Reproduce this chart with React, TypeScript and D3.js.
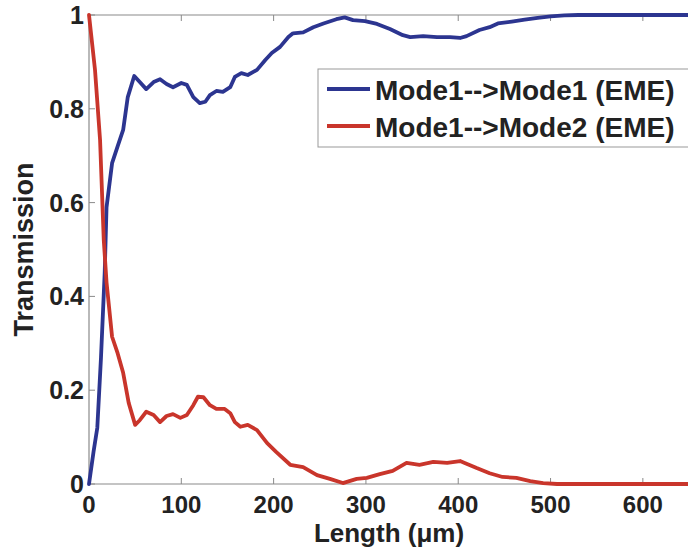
import React from "react";
import * as d3 from "d3";

const xTicks = [0, 100, 200, 300, 400, 500, 600];
const yTicks = [0, 0.2, 0.4, 0.6, 0.8, 1];
const yTickLabels = ["0", "0.2", "0.4", "0.6", "0.8", "1"];

const mode1Lengths = [0, 5, 9, 13, 17, 19, 25, 31, 37, 42, 49, 55, 62, 70, 77, 84, 91, 100, 106, 113, 120, 126, 131, 138, 145, 153, 158, 165, 172, 182, 191, 198, 207, 216, 221, 232, 243, 254, 268, 277, 286, 299, 312, 326, 340, 348, 362, 377, 391, 402, 409, 423, 434, 443, 458, 472, 486, 500, 515, 530, 650];
const mode1Values = [0, 0.07, 0.12, 0.27, 0.45, 0.59, 0.684, 0.72, 0.755, 0.825, 0.87, 0.857, 0.842, 0.857, 0.863, 0.853, 0.846, 0.855, 0.851, 0.825, 0.812, 0.815, 0.829, 0.838, 0.836, 0.846, 0.868, 0.876, 0.872, 0.883, 0.904, 0.919, 0.932, 0.953, 0.961, 0.963, 0.974, 0.982, 0.991, 0.995, 0.989, 0.987, 0.981, 0.97, 0.957, 0.953, 0.955, 0.953, 0.953, 0.951, 0.955, 0.968, 0.974, 0.982, 0.986, 0.99, 0.994, 0.997, 0.999, 1, 1];

const mode2Lengths = [0, 6.5, 12, 16, 19, 25, 31, 37, 43, 50, 55, 62, 70, 77, 84, 91, 99, 106, 113, 118, 124, 131, 138, 147, 153, 158, 164, 172, 182, 193, 203, 218, 232, 247, 261, 275, 290, 301, 315, 329, 344, 358, 373, 388, 402, 407, 420, 434, 448, 463, 478, 492, 507, 650];
const mode2Values = [1, 0.883, 0.733, 0.52, 0.43, 0.314, 0.279, 0.237, 0.173, 0.126, 0.136, 0.154, 0.147, 0.132, 0.145, 0.149, 0.141, 0.147, 0.168, 0.186, 0.185, 0.168, 0.16, 0.16, 0.151, 0.132, 0.122, 0.126, 0.115, 0.087, 0.068, 0.041, 0.036, 0.019, 0.011, 0.002, 0.011, 0.013, 0.021, 0.028, 0.045, 0.041, 0.047, 0.045, 0.049, 0.045, 0.034, 0.023, 0.015, 0.013, 0.006, 0.002, 0, 0];

const legendLabels = ["Mode1-->Mode1 (EME)", "Mode1-->Mode2 (EME)"];
const seriesColors = ["#2c3590", "#c9352b"];

const W = 688;
const H = 548;
const left = 89;
const right = 689;
const top = 15;
const bottom = 484;
const FONT = "'Liberation Sans', Arial, Helvetica, sans-serif";

export default function App() {
  const x = d3.scaleLinear().domain([0, 650]).range([left, right]);
  const y = d3.scaleLinear().domain([0, 1]).range([bottom, top]);
  const line = d3
    .line<[number, number]>()
    .x((d) => x(d[0]))
    .y((d) => y(d[1]))
    .curve(d3.curveLinear);
  const s1 = mode1Lengths.map((l, i) => [l, mode1Values[i]] as [number, number]);
  const s2 = mode2Lengths.map((l, i) => [l, mode2Values[i]] as [number, number]);
  const axisColor = "#8a8a8a";
  const tickLen = 6;

  return (
    <svg
      width={W}
      height={H}
      style={{ position: "absolute", left: 0, top: 0, background: "#fff" }}
      fontFamily={FONT}
    >
      <rect x={0} y={0} width={W} height={H} fill="#fff" />
      <line x1={left} x2={right} y1={bottom} y2={bottom} stroke={axisColor} strokeWidth={1.2} />
      <line x1={left} x2={right} y1={top} y2={top} stroke={axisColor} strokeWidth={1.2} />
      <line x1={left} x2={left} y1={top} y2={bottom} stroke={axisColor} strokeWidth={1.2} />
      {xTicks.map((t) => (
        <g key={"xt" + t}>
          <line x1={x(t)} x2={x(t)} y1={bottom} y2={bottom - tickLen} stroke={axisColor} />
          <line x1={x(t)} x2={x(t)} y1={top} y2={top + tickLen} stroke={axisColor} />
          <text
            x={x(t)}
            y={bottom + 29}
            textAnchor="middle"
            fontSize={24}
            fontWeight="bold"
            fill="#222"
          >
            {t}
          </text>
        </g>
      ))}
      {yTicks.map((t, i) => (
        <g key={"yt" + t}>
          <line x1={left} x2={left + tickLen} y1={y(t)} y2={y(t)} stroke={axisColor} />
          <text
            x={left - 5}
            y={y(t) + 9}
            textAnchor="end"
            fontSize={25}
            fontWeight="bold"
            fill="#222"
          >
            {yTickLabels[i]}
          </text>
        </g>
      ))}
      <text
        x={(left + right) / 2}
        y={542}
        textAnchor="middle"
        fontSize={26}
        fontWeight="bold"
        fill="#222"
      >
        Length (μm)
      </text>
      <text
        transform={`translate(33, ${(top + bottom) / 2}) rotate(-90)`}
        textAnchor="middle"
        fontSize={27}
        fontWeight="bold"
        fill="#222"
      >
        Transmission
      </text>
      <path d={line(s1) || ""} fill="none" stroke={seriesColors[0]} strokeWidth={3.8} strokeLinejoin="round" strokeLinecap="round" />
      <path d={line(s2) || ""} fill="none" stroke={seriesColors[1]} strokeWidth={3.8} strokeLinejoin="round" strokeLinecap="round" />
      <rect x={318} y={69} width={400} height={78} fill="#fff" stroke="#999" strokeWidth={1} />
      {legendLabels.map((lab, i) => (
        <g key={lab}>
          <line x1={327} x2={370} y1={89 + i * 37} y2={89 + i * 37} stroke={seriesColors[i]} strokeWidth={3.8} />
          <text x={375} y={100 + i * 37} fontSize={28} fontWeight="bold" fill="#222">
            {lab}
          </text>
        </g>
      ))}
    </svg>
  );
}
